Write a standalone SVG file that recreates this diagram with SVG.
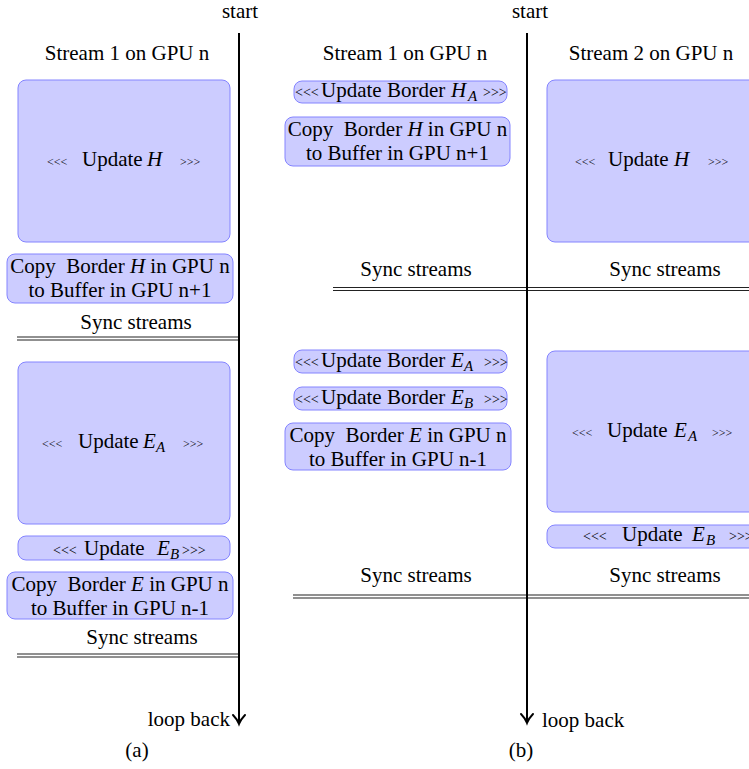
<svg xmlns="http://www.w3.org/2000/svg" width="749" height="769" viewBox="0 0 749 769">
<style>
.box{fill:#ccccff;stroke:#8484ff;stroke-width:1}
.t{font-family:"Liberation Serif","Times New Roman",serif;font-size:21px;fill:#000}
.m{text-anchor:middle}
.e{text-anchor:end}
.s{font-size:12px}
.s2{font-size:14px}
.i{font-style:italic}
.sub{font-size:15px;font-style:italic}
.ax{stroke:#000;stroke-width:2;fill:none}
.dbl{stroke:#222;stroke-width:1.1;fill:none}
</style>
<rect width="749" height="769" fill="#fff"/>

<!-- labels -->
<g id="labels">
<text class="t m" x="240" y="18">start</text>
<text class="t m" x="530" y="18">start</text>
<text class="t m" x="127" y="60">Stream 1 on GPU n</text>
<text class="t m" x="405" y="60">Stream 1 on GPU n</text>
<text class="t m" x="651" y="60">Stream 2 on GPU n</text>
<text class="t e" x="230" y="726">loop back</text>
<text class="t" x="542" y="727">loop back</text>
<text class="t m" x="137" y="757">(a)</text>
<text class="t m" x="521" y="757">(b)</text>
</g>

<!-- panel (a) -->
<g id="a-update-H">
<rect class="box" x="18" y="80" width="212" height="162" rx="8"/>
<text class="t" y="166"><tspan x="47" class="s">&lt;&lt;&lt;</tspan><tspan x="82">Update</tspan><tspan x="147" class="i">H</tspan><tspan x="180" class="s">&gt;&gt;&gt;</tspan></text>
</g>
<g id="a-copy-H">
<rect class="box" x="7" y="254" width="226" height="49" rx="8"/>
<text class="t m" x="120" y="273">Copy&#160; Border <tspan class="i">H</tspan> in GPU n</text>
<text class="t m" x="120" y="297">to Buffer in GPU n+1</text>
</g>
<g id="a-sync-1">
<text class="t m" x="136" y="329">Sync streams</text>
</g>
<g id="a-update-EA">
<rect class="box" x="18" y="362" width="212" height="162" rx="8"/>
<text class="t" y="448"><tspan x="42" class="s">&lt;&lt;&lt;</tspan><tspan x="78">Update</tspan><tspan x="143" class="i">E</tspan><tspan x="156" y="452" class="sub">A</tspan><tspan x="183" y="448" class="s">&gt;&gt;&gt;</tspan></text>
</g>
<g id="a-update-EB">
<rect class="box" x="18" y="536" width="212" height="24" rx="8"/>
<text class="t" y="555"><tspan x="53" class="s2">&lt;&lt;&lt;</tspan><tspan x="84">Update</tspan><tspan x="157" class="i">E</tspan><tspan x="170" y="559" class="sub">B</tspan><tspan x="182" y="555" class="s2">&gt;&gt;&gt;</tspan></text>
</g>
<g id="a-copy-E">
<rect class="box" x="7" y="572" width="226" height="47" rx="8"/>
<text class="t m" x="120" y="591">Copy&#160; Border <tspan class="i">E</tspan> in GPU n</text>
<text class="t m" x="120" y="615">to Buffer in GPU n-1</text>
</g>
<g id="a-sync-2">
<text class="t m" x="142" y="644">Sync streams</text>
</g>

<!-- panel (b) stream 1 -->
<g id="b-update-border-HA">
<rect class="box" x="294" y="81" width="213" height="22" rx="8"/>
<text class="t" y="97"><tspan x="295" class="s2">&lt;&lt;&lt;</tspan><tspan x="321">Update Border</tspan><tspan x="451" class="i">H</tspan><tspan x="468" y="101" class="sub">A</tspan><tspan x="483" y="97" class="s2">&gt;&gt;&gt;</tspan></text>
</g>
<g id="b-copy-H">
<rect class="box" x="285" y="117" width="225" height="49" rx="8"/>
<text class="t m" x="397.5" y="136">Copy&#160; Border <tspan class="i">H</tspan> in GPU n</text>
<text class="t m" x="397.5" y="160">to Buffer in GPU n+1</text>
</g>
<g id="b-sync-1a">
<text class="t m" x="416" y="276">Sync streams</text>
</g>
<g id="b-update-border-EA">
<rect class="box" x="294" y="350" width="213" height="23" rx="8"/>
<text class="t" y="367"><tspan x="295" class="s2">&lt;&lt;&lt;</tspan><tspan x="321">Update Border</tspan><tspan x="451" class="i">E</tspan><tspan x="464" y="371" class="sub">A</tspan><tspan x="484" y="367" class="s2">&gt;&gt;&gt;</tspan></text>
</g>
<g id="b-update-border-EB">
<rect class="box" x="294" y="387" width="213" height="23" rx="8"/>
<text class="t" y="404"><tspan x="295" class="s2">&lt;&lt;&lt;</tspan><tspan x="321">Update Border</tspan><tspan x="451" class="i">E</tspan><tspan x="464" y="408" class="sub">B</tspan><tspan x="484" y="404" class="s2">&gt;&gt;&gt;</tspan></text>
</g>
<g id="b-copy-E">
<rect class="box" x="285" y="423" width="226" height="47" rx="8"/>
<text class="t m" x="398" y="442">Copy&#160; Border <tspan class="i">E</tspan> in GPU n</text>
<text class="t m" x="398" y="466">to Buffer in GPU n-1</text>
</g>
<g id="b-sync-2a">
<text class="t m" x="416" y="582">Sync streams</text>
</g>

<!-- panel (b) stream 2 -->
<g id="b-update-H">
<rect class="box" x="547" y="80" width="212" height="162" rx="8"/>
<text class="t" y="166"><tspan x="575" class="s">&lt;&lt;&lt;</tspan><tspan x="608">Update</tspan><tspan x="674" class="i">H</tspan><tspan x="708" class="s">&gt;&gt;&gt;</tspan></text>
</g>
<g id="b-sync-1b">
<text class="t m" x="665" y="276">Sync streams</text>
</g>
<g id="b-update-EA">
<rect class="box" x="547" y="351" width="212" height="161" rx="8"/>
<text class="t" y="437"><tspan x="572" class="s">&lt;&lt;&lt;</tspan><tspan x="607">Update</tspan><tspan x="674" class="i">E</tspan><tspan x="688" y="441" class="sub">A</tspan><tspan x="712" y="437" class="s">&gt;&gt;&gt;</tspan></text>
</g>
<g id="b-update-EB">
<rect class="box" x="547" y="525" width="212" height="23" rx="8"/>
<text class="t" y="541"><tspan x="583" class="s2">&lt;&lt;&lt;</tspan><tspan x="622">Update</tspan><tspan x="692" class="i">E</tspan><tspan x="706" y="545" class="sub">B</tspan><tspan x="729" y="541" class="s2">&gt;&gt;&gt;</tspan></text>
</g>
<g id="b-sync-2b">
<text class="t m" x="665" y="582">Sync streams</text>
</g>

<!-- connectors -->
<g id="connectors">
<line class="dbl" x1="17" y1="337" x2="239" y2="337"/>
<line class="dbl" x1="17" y1="340" x2="239" y2="340"/>
<line class="dbl" x1="17" y1="654" x2="239" y2="654"/>
<line class="dbl" x1="17" y1="657" x2="239" y2="657"/>
<line class="dbl" x1="333" y1="287.5" x2="749" y2="287.5"/>
<line class="dbl" x1="333" y1="290.5" x2="749" y2="290.5"/>
<line class="dbl" x1="293" y1="595" x2="749" y2="595"/>
<line class="dbl" x1="293" y1="598" x2="749" y2="598"/>
<line class="ax" x1="239" y1="33" x2="239" y2="723"/>
<path class="ax" stroke-width="1.6" stroke-linecap="round" d="M233 715 Q237 719 239 724 Q241 719 245 715"/>
<line class="ax" x1="527" y1="33" x2="527" y2="722"/>
<path class="ax" stroke-width="1.6" stroke-linecap="round" d="M521 714 Q525 718 527 723 Q529 718 533 714"/>
</g>
</svg>
